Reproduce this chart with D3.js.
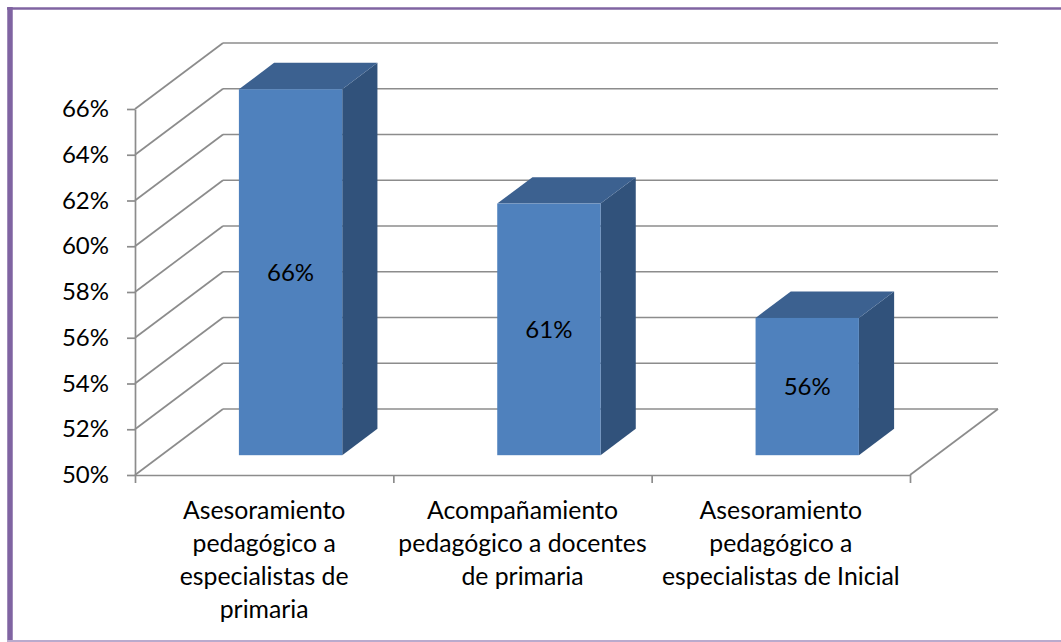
<!DOCTYPE html>
<html>
<head>
<meta charset="utf-8">
<script src="https://cdn.jsdelivr.net/npm/d3@7/dist/d3.min.js"></script>
<style>
  html, body { margin: 0; padding: 0; background: #fff; }
  svg { display: block; }
  text { font-family: Lato, "Open Sans", sans-serif; fill: #000; }
</style>
</head>
<body>
<svg id="chart" width="1061" height="642"></svg>
<script>
// ---- data ----
const categories = [
  "Asesoramiento\npedagógico a\nespecialistas de\nprimaria",
  "Acompañamiento\npedagógico a docentes\nde primaria",
  "Asesoramiento\npedagógico a\nespecialistas de Inicial"
];
const values = [66, 61, 56];
const valueLabels = ["66%", "61%", "56%"];
const yTicks = [50, 52, 54, 56, 58, 60, 62, 64, 66];

// ---- layout ----
const W = 1061, H = 642;
const plot = { left: 135, right: 910, top: 109, bottom: 475 };
const depthX = 88, depthY = -66;          // 3D back-wall offset
const barDepthFrom = 0.3, barDepthTo = 0.7;
const fontSize = 24;
const catFontSize = 24.8;

const svg = d3.select("#chart");

// frame
svg.append("line").attr("x1", 10).attr("x2", 10).attr("y1", 7).attr("y2", 642)
  .attr("stroke", "#8064A2").attr("stroke-width", 5.5);
svg.append("line").attr("x1", 7).attr("x2", W).attr("y1", 8.5).attr("y2", 8.5)
  .attr("stroke", "#8064A2").attr("stroke-width", 2.5);
svg.append("line").attr("x1", 7).attr("x2", W).attr("y1", 641).attr("y2", 641)
  .attr("stroke", "#B9AACD").attr("stroke-width", 2);

// scales
const y = d3.scaleLinear().domain([50, 66]).range([plot.bottom, plot.top]);
const x = d3.scaleBand().domain(categories).range([plot.left, plot.right])
  .paddingInner(0.6).paddingOuter(0.3);
const xBound = d3.scaleLinear().domain([0, categories.length]).range([plot.left, plot.right]);

const gridColor = "#8C8C8C";
const grid = svg.append("g").attr("stroke", gridColor).attr("stroke-width", 1.7).attr("fill", "none");

// side wall diagonals + back wall horizontals
yTicks.forEach(v => {
  const yy = y(v);
  grid.append("line").attr("x1", plot.left).attr("y1", yy)
    .attr("x2", plot.left + depthX).attr("y2", yy + depthY);
  grid.append("line").attr("x1", plot.left + depthX).attr("y1", yy + depthY)
    .attr("x2", plot.right + depthX).attr("y2", yy + depthY);
});
// floor right edge
grid.append("line").attr("x1", plot.right).attr("y1", y(50))
  .attr("x2", plot.right + depthX).attr("y2", y(50) + depthY);

// y axis
const yAxis = svg.append("g").attr("transform", `translate(${plot.left},0)`)
  .call(d3.axisLeft(y).tickValues(yTicks).tickSize(8).tickSizeOuter(0).tickPadding(18)
    .tickFormat(d => d + "%"));
yAxis.selectAll("path, line").attr("stroke", gridColor).attr("stroke-width", 1.7);
yAxis.selectAll("text").attr("font-size", fontSize).attr("font-family", "Lato, 'Open Sans', sans-serif")
  .attr("fill", "#000");

// x axis (boundary ticks)
const xAxis = svg.append("g").attr("transform", `translate(0,${plot.bottom})`)
  .call(d3.axisBottom(xBound).tickValues(d3.range(categories.length + 1)).tickSize(8)
    .tickSizeOuter(0).tickFormat(""));
xAxis.selectAll("path, line").attr("stroke", gridColor).attr("stroke-width", 1.7);

// bars
const fx = depthX * barDepthFrom, fy = depthY * barDepthFrom;
const bx = depthX * barDepthTo, by = depthY * barDepthTo;
const bars = svg.append("g");
categories.forEach((c, i) => {
  const x0 = x(c) + fx, x1 = x(c) + x.bandwidth() + fx;
  const yt = y(values[i]) + fy, yb = y(50) + fy;
  const ddx = bx - fx, ddy = by - fy;
  // side
  bars.append("polygon")
    .attr("points", [[x1, yt], [x1 + ddx, yt + ddy], [x1 + ddx, yb + ddy], [x1, yb]].join(" "))
    .attr("fill", "#31527B");
  // top
  bars.append("polygon")
    .attr("points", [[x0, yt], [x0 + ddx, yt + ddy], [x1 + ddx, yt + ddy], [x1, yt]].join(" "))
    .attr("fill", "#3C6190");
  // front
  bars.append("rect").attr("x", x0).attr("y", yt).attr("width", x1 - x0).attr("height", yb - yt)
    .attr("fill", "#4F81BD");
  // value label
  bars.append("text").attr("x", (x0 + x1) / 2).attr("y", (yt + yb) / 2)
    .attr("dy", "0.35em").attr("text-anchor", "middle").attr("font-size", fontSize)
    .text(valueLabels[i]);
});

// category labels
const lineH = 33;
categories.forEach(c => {
  const t = svg.append("text").attr("text-anchor", "middle").attr("font-size", catFontSize)
    .attr("x", x(c) + x.bandwidth() / 2).attr("y", 519);
  c.split("\n").forEach((ln, k) => {
    t.append("tspan").attr("x", x(c) + x.bandwidth() / 2).attr("dy", k === 0 ? 0 : lineH).text(ln);
  });
});
</script>
</body>
</html>
